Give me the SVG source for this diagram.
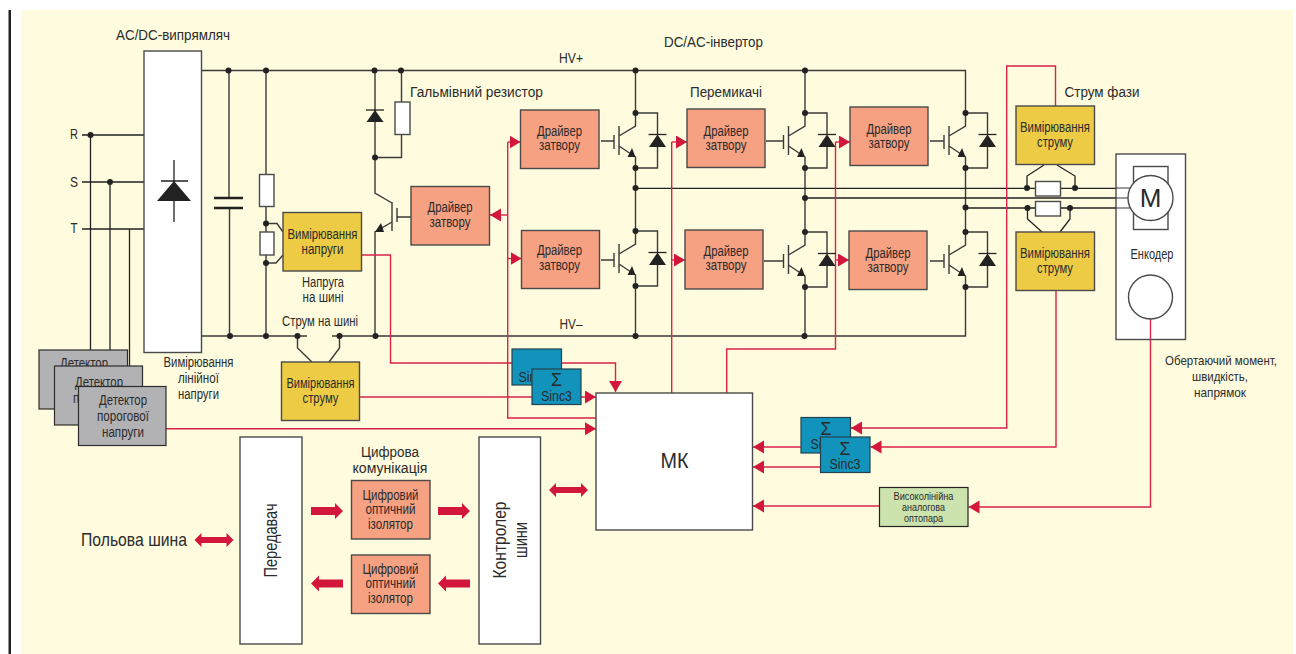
<svg xmlns="http://www.w3.org/2000/svg" xmlns:xlink="http://www.w3.org/1999/xlink" width="1296" height="654" viewBox="0 0 1296 654">
<style>
text{font-family:"Liberation Sans",Arial,sans-serif;fill:#2b2b2b;text-anchor:middle;font-size:14px}
.l{font-size:15.500px}.xs{font-size:11px}.sg{font-size:18px}.sc{font-size:15px}.n{font-size:13px}
.w{fill:none;stroke:#3a3a3a;stroke-width:1.400}
.k{fill:none;stroke:#222;stroke-width:1.300}
.r{fill:none;stroke:#d8234a;stroke-width:1.400}
.ra{marker-end:url(#ah)}
.d{fill:#222}
.box{stroke:#4a4a4a;stroke-width:1.400}
.wh{fill:#fff}.sal{fill:#f5a182}.yel{fill:#eecb45}.gr{fill:#b2b2b4;stroke:#2c2c2c;stroke-width:1.200}
.bl{fill:#1293bc;stroke:#23414f;stroke-width:1.200}.gn{fill:#cde3ae;stroke:#222;stroke-width:1.200}
.ba{fill:#d2163c}
</style>
<defs>
<marker id="ah" markerUnits="userSpaceOnUse" markerWidth="12" markerHeight="14" refX="11" refY="6.500" orient="auto"><path d="M0 0L11 6.500L0 13Z" fill="#d2163c"/></marker>
<g id="igbt">
<path class="w" d="M0 0V13L-16.500 23M-16.500 13V42M-21.500 22V36M-16.500 33L0 44V55M0 0H22V21.500M22 34V55H0"/>
<path class="k" d="M13 21.500H31"/>
<path class="d" d="M22 21.500L30.500 34H13.500ZM-3.500 35L0 44H-8Z"/>
<circle class="d" r="3"/><circle class="d" cy="55" r="3"/>
</g>
<path id="bar" class="ba" d="M0 -4H24V-8L32 0L24 8V4H0Z"/>
<path id="dbl" class="ba" d="M0 0L7 -7V-3H32V-7L39 0L32 7V3H7V7Z"/>
</defs>

<rect width="1296" height="654" fill="#fff"/>
<rect x="21" y="10" width="1272" height="644" fill="#fefbde"/>
<rect x="8.500" y="10" width="2.500" height="644" fill="#222"/>

<g id="connectors">
<path class="w" d="M201 70.500H965.500V113M965.500 168V232M965.500 287V336H332M307 336H201"/>
<path class="k" d="M82 135H144M82 182H144M82 229H144M90.500 135V350M110 182V366M129.500 229V366"/>
<path class="w" d="M229 70.500V197M229.500 209V336M266 70.500V336M266 223.500H277L283 232M266 263H276L283 255"/>
<path class="w" d="M375 70.500V193L392 203M392 222L375 232V336M401.500 70.500V157.500H375M397 217H411"/>
<path class="w" d="M297.500 336V348L312 362M339.500 336V348L329 362"/>
<path class="w" d="M635.500 70.500V113M635.500 168V231M635.500 286V336M805 70.500V113M805 168V232M805 287V336"/>
<path class="w" d="M601 141H614M601 260H614M766 141H783.500M764 261H783.500M930 141H944M930 261H944"/>
<path class="k" d="M635.500 188.300H1130M805 198H1128M965.500 208H1130"/>
<path class="k" d="M1027 188V176L1044 165M1075 188V176L1057 165M1027.500 208V219L1042 232M1070 208V219L1060 232"/>
<path class="r ra" d="M361 255H390.500V363H615.500V392"/>
<path class="r ra" d="M360 397H596"/>
<path class="r ra" d="M166 428.700H596"/>
<path class="r" d="M596 418H507.700V142"/>
<path class="r ra" d="M507.700 142H520.500"/><path class="r ra" d="M507.700 258.500H521.500"/><path class="r ra" d="M507.700 215H490"/>
<path class="r" d="M671.700 393V142"/>
<path class="r ra" d="M671.700 142H687"/><path class="r ra" d="M671.700 260H685"/>
<path class="r" d="M726.700 393V349H835.500V142"/>
<path class="r ra" d="M835.500 142H850"/><path class="r ra" d="M835.500 260H849"/>
<path class="r ra" d="M1055.500 106V66H1006.700V428H851"/>
<path class="r ra" d="M1056 291V447H870.500"/>
<path class="r ra" d="M1150.500 339V507H968.500"/>
<path class="r ra" d="M801 447H753"/><path class="r ra" d="M820 467H753"/><path class="r ra" d="M880 506H753"/>
<use xlink:href="#bar" href="#bar" x="311" y="511"/>
<use xlink:href="#bar" href="#bar" x="438" y="511"/>
<use xlink:href="#bar" href="#bar" transform="translate(343 583.500) scale(-1 1)"/>
<use xlink:href="#bar" href="#bar" transform="translate(470 583.500) scale(-1 1)"/>
<use xlink:href="#dbl" href="#dbl" x="194.500" y="540"/>
<use xlink:href="#dbl" href="#dbl" x="549" y="490"/>
<g class="d">
<circle cx="90.500" cy="135" r="3"/><circle cx="110" cy="182" r="3"/>
<circle cx="228.500" cy="70.500" r="3"/><circle cx="266" cy="70.500" r="3"/><circle cx="374.500" cy="70.500" r="3"/><circle cx="401" cy="70.500" r="3"/><circle cx="635.500" cy="70.500" r="3"/><circle cx="805" cy="70.500" r="3"/>
<circle cx="266" cy="223.500" r="3"/><circle cx="266" cy="263" r="3"/><circle cx="375" cy="157.500" r="3"/>
<circle cx="230" cy="336" r="3"/><circle cx="266" cy="336" r="3"/><circle cx="297.500" cy="336" r="3"/><circle cx="339.500" cy="336" r="3"/><circle cx="375.500" cy="336" r="3"/><circle cx="635.500" cy="336" r="3"/><circle cx="804.500" cy="336" r="3"/>
<circle cx="635.500" cy="188" r="3"/><circle cx="805" cy="198" r="3"/><circle cx="965.500" cy="207.500" r="3"/>
<circle cx="1027" cy="188" r="3"/><circle cx="1075" cy="188" r="3"/><circle cx="1027.500" cy="208" r="3"/><circle cx="1070" cy="208" r="3"/>
</g>
</g>

<g id="rectifier"><rect class="box wh" x="144" y="51" width="57.500" height="301.500"/>
<path class="k" d="M174 160V222M161 181H188"/><path class="d" d="M174 181L191 201H157Z"/></g>
<g id="capacitor"><path d="M214 198H243M214 208H243" stroke="#222" stroke-width="2.400" fill="none"/></g>
<g id="res-bus1"><rect class="box wh" x="259.500" y="174.500" width="14.500" height="32"/></g>
<g id="res-bus2"><rect class="box wh" x="260" y="232" width="14" height="23"/></g>
<g id="brake-diode"><path class="k" d="M366 110H384"/><path class="d" d="M375 110L383.500 122H366.500Z"/></g>
<g id="brake-res"><rect class="box wh" x="395" y="102" width="15" height="32.500"/></g>
<g id="brake-igbt"><path class="w" d="M392 202V231M397 208V222"/><path class="d" d="M381 223L384 232H375Z"/></g>

<use id="igbt-1h" xlink:href="#igbt" href="#igbt" x="635.500" y="113"/>
<use id="igbt-1l" xlink:href="#igbt" href="#igbt" x="635.500" y="231"/>
<use id="igbt-2h" xlink:href="#igbt" href="#igbt" x="805" y="113"/>
<use id="igbt-2l" xlink:href="#igbt" href="#igbt" x="805" y="232"/>
<use id="igbt-3h" xlink:href="#igbt" href="#igbt" x="965.500" y="113"/>
<use id="igbt-3l" xlink:href="#igbt" href="#igbt" x="965.500" y="232"/>

<g id="det1"><rect class="gr" x="39" y="350" width="88.500" height="59"/><text x="84" y="368" textLength="48" lengthAdjust="spacingAndGlyphs">Детектор</text></g>
<g id="det2"><rect class="gr" x="54.500" y="366" width="88" height="59"/><text x="99" y="387" textLength="48" lengthAdjust="spacingAndGlyphs">Детектор</text><text x="99" y="403" textLength="52" lengthAdjust="spacingAndGlyphs">порогової</text></g>
<g id="det3"><rect class="gr" x="78.500" y="386.500" width="87.500" height="59"/><text x="123" y="405" textLength="48" lengthAdjust="spacingAndGlyphs">Детектор</text><text x="123" y="421" textLength="52" lengthAdjust="spacingAndGlyphs">порогової</text><text x="123" y="437" textLength="42" lengthAdjust="spacingAndGlyphs">напруги</text></g>

<g id="v-meas"><rect class="box yel" x="283" y="212.500" width="78.500" height="58.500"/><text x="322.500" y="239" textLength="70" lengthAdjust="spacingAndGlyphs">Вимірювання</text><text x="322.500" y="254" textLength="42" lengthAdjust="spacingAndGlyphs">напруги</text></g>
<g id="i-meas"><rect class="box yel" x="281.500" y="362" width="78" height="58.500"/><text x="320.500" y="388" textLength="68" lengthAdjust="spacingAndGlyphs">Вимірювання</text><text x="320.500" y="403" textLength="36" lengthAdjust="spacingAndGlyphs">струму</text></g>
<g id="drv0"><rect class="box sal" x="411" y="186.500" width="78.500" height="58.500"/><text x="450" y="212" textLength="45" lengthAdjust="spacingAndGlyphs">Драйвер</text><text x="450" y="227" textLength="41" lengthAdjust="spacingAndGlyphs">затвору</text></g>
<g id="drv1"><rect class="box sal" x="520.500" y="110" width="78.500" height="58.500"/><text x="559.500" y="136" textLength="45" lengthAdjust="spacingAndGlyphs">Драйвер</text><text x="559.500" y="150" textLength="41" lengthAdjust="spacingAndGlyphs">затвору</text></g>
<g id="drv2"><rect class="box sal" x="521.500" y="230.500" width="78" height="58"/><text x="559.500" y="255" textLength="45" lengthAdjust="spacingAndGlyphs">Драйвер</text><text x="559.500" y="270" textLength="41" lengthAdjust="spacingAndGlyphs">затвору</text></g>
<g id="drv3"><rect class="box sal" x="687" y="109" width="78" height="58.500"/><text x="726" y="136" textLength="45" lengthAdjust="spacingAndGlyphs">Драйвер</text><text x="726" y="150" textLength="41" lengthAdjust="spacingAndGlyphs">затвору</text></g>
<g id="drv4"><rect class="box sal" x="685" y="230" width="78" height="59"/><text x="726" y="256" textLength="45" lengthAdjust="spacingAndGlyphs">Драйвер</text><text x="726" y="270" textLength="41" lengthAdjust="spacingAndGlyphs">затвору</text></g>
<g id="drv5"><rect class="box sal" x="850" y="107" width="78" height="58.500"/><text x="889" y="134" textLength="45" lengthAdjust="spacingAndGlyphs">Драйвер</text><text x="889" y="148" textLength="41" lengthAdjust="spacingAndGlyphs">затвору</text></g>
<g id="drv6"><rect class="box sal" x="849" y="231" width="78" height="58.500"/><text x="888" y="258" textLength="45" lengthAdjust="spacingAndGlyphs">Драйвер</text><text x="888" y="272" textLength="41" lengthAdjust="spacingAndGlyphs">затвору</text></g>

<g id="i-phase1"><rect class="box yel" x="1016" y="106" width="78.500" height="58.500"/><text x="1055" y="132" textLength="70" lengthAdjust="spacingAndGlyphs">Вимірювання</text><text x="1055" y="147" textLength="36" lengthAdjust="spacingAndGlyphs">струму</text></g>
<g id="i-phase2"><rect class="box yel" x="1016" y="232" width="78.500" height="58.500"/><text x="1055" y="258" textLength="70" lengthAdjust="spacingAndGlyphs">Вимірювання</text><text x="1055" y="273" textLength="36" lengthAdjust="spacingAndGlyphs">струму</text></g>
<g id="shunt1"><rect class="box wh" x="1035.500" y="181.500" width="25" height="14.500"/></g>
<g id="shunt2"><rect class="box wh" x="1035.500" y="201.500" width="25" height="14.500"/></g>

<g id="motor"><rect class="box wh" x="1116" y="154" width="69.500" height="185.500"/>
<rect class="box wh" x="1133.500" y="166.500" width="34.500" height="63"/>
<path class="k" d="M1116 188H1130M1116 198H1128M1116 208H1130" stroke-opacity=".6"/>
<path class="r" d="M1150.500 319V339"/>
<circle class="box wh" cx="1150.500" cy="198" r="22.500"/><text x="1150.500" y="207" style="font-size:26px">M</text>
<text x="1152" y="259" textLength="43" lengthAdjust="spacingAndGlyphs">Енкодер</text>
<circle class="box wh" cx="1150.500" cy="297" r="22"/></g>

<g id="sinc-a1"><rect class="bl" x="512" y="349" width="49.500" height="36"/><text class="sc" x="534" y="381.500" textLength="31" lengthAdjust="spacingAndGlyphs">Sinc3</text></g>
<g id="sinc-a2"><rect class="bl" x="532" y="369" width="49" height="35.500"/><text class="sg" x="556.500" y="386" textLength="11" lengthAdjust="spacingAndGlyphs">Σ</text><text class="sc" x="556.500" y="401" textLength="31" lengthAdjust="spacingAndGlyphs">Sinc3</text></g>
<g id="sinc-b1"><rect class="bl" x="801" y="417.500" width="49.500" height="35.500"/><text class="sg" x="826" y="435" textLength="11" lengthAdjust="spacingAndGlyphs">Σ</text><text class="sc" x="826" y="449" textLength="31" lengthAdjust="spacingAndGlyphs">Sinc3</text></g>
<g id="sinc-b2"><rect class="bl" x="820.500" y="437" width="49.500" height="35.500"/><text class="sg" x="845" y="455" textLength="11" lengthAdjust="spacingAndGlyphs">Σ</text><text class="sc" x="845" y="468.500" textLength="31" lengthAdjust="spacingAndGlyphs">Sinc3</text></g>

<g id="mk"><rect class="box wh" x="596" y="393" width="156.500" height="137"/><text x="674.500" y="468" style="font-size:22px" textLength="28" lengthAdjust="spacingAndGlyphs">МК</text></g>
<g id="opto"><rect class="gn" x="879.500" y="487.500" width="88.500" height="39"/><text class="xs" x="923.500" y="500" textLength="60" lengthAdjust="spacingAndGlyphs">Високолінійна</text><text class="xs" x="923.500" y="511" textLength="43" lengthAdjust="spacingAndGlyphs">аналогова</text><text class="xs" x="923.500" y="522" textLength="39" lengthAdjust="spacingAndGlyphs">оптопара</text></g>
<g id="transceiver"><rect class="box wh" x="240" y="437" width="62" height="207"/><text transform="translate(277 540.500) rotate(-90)" style="font-size:18px" textLength="74" lengthAdjust="spacingAndGlyphs">Передавач</text></g>
<g id="bus-ctrl"><rect class="box wh" x="479" y="437" width="61.500" height="207"/><text transform="translate(505.500 540) rotate(-90)" style="font-size:18px" textLength="77" lengthAdjust="spacingAndGlyphs">Контролер</text><text transform="translate(527 540) rotate(-90)" style="font-size:18px" textLength="36" lengthAdjust="spacingAndGlyphs">шини</text></g>
<g id="iso1"><rect class="box sal" x="351.500" y="480.500" width="78.500" height="58.500"/><text x="390.500" y="500" textLength="56" lengthAdjust="spacingAndGlyphs">Цифровий</text><text x="390.500" y="514" textLength="50" lengthAdjust="spacingAndGlyphs">оптичний</text><text x="390.500" y="529" textLength="45" lengthAdjust="spacingAndGlyphs">ізолятор</text></g>
<g id="iso2"><rect class="box sal" x="351.500" y="555" width="78.500" height="58.500"/><text x="390.500" y="574" textLength="56" lengthAdjust="spacingAndGlyphs">Цифровий</text><text x="390.500" y="588" textLength="50" lengthAdjust="spacingAndGlyphs">оптичний</text><text x="390.500" y="603" textLength="45" lengthAdjust="spacingAndGlyphs">ізолятор</text></g>

<g id="labels">
<text class="l" x="173" y="40" textLength="114" lengthAdjust="spacingAndGlyphs">AC/DC-випрямляч</text>
<text class="l" x="571" y="63" textLength="24" lengthAdjust="spacingAndGlyphs">HV+</text>
<text class="l" x="713.500" y="47" textLength="99" lengthAdjust="spacingAndGlyphs">DC/AC-інвертор</text>
<text class="l" x="476.500" y="97" textLength="133" lengthAdjust="spacingAndGlyphs">Гальмівний резистор</text>
<text class="l" x="726" y="96.500" textLength="72" lengthAdjust="spacingAndGlyphs">Перемикачі</text>
<text class="l" x="1102" y="97" textLength="75" lengthAdjust="spacingAndGlyphs">Струм фази</text>
<text class="l" x="571" y="329" textLength="23" lengthAdjust="spacingAndGlyphs">HV–</text>
<text class="l" x="74" y="138.500" textLength="8" lengthAdjust="spacingAndGlyphs">R</text><text class="l" x="74" y="186.500" textLength="8" lengthAdjust="spacingAndGlyphs">S</text><text class="l" x="74" y="233" textLength="7" lengthAdjust="spacingAndGlyphs">T</text>
<text x="323" y="287" textLength="42" lengthAdjust="spacingAndGlyphs">Напруга</text><text x="323" y="302" textLength="41" lengthAdjust="spacingAndGlyphs">на шині</text>
<text x="320" y="326" textLength="76" lengthAdjust="spacingAndGlyphs">Струм на шині</text>
<text x="198.500" y="367" textLength="70" lengthAdjust="spacingAndGlyphs">Вимірювання</text><text x="198.500" y="383" textLength="41" lengthAdjust="spacingAndGlyphs">лінійної</text><text x="198.500" y="399" textLength="41" lengthAdjust="spacingAndGlyphs">напруги</text>
<text class="l" x="390" y="457" textLength="58" lengthAdjust="spacingAndGlyphs">Цифрова</text><text class="l" x="390" y="473" textLength="75" lengthAdjust="spacingAndGlyphs">комунікація</text>
<text class="n" x="1221" y="365" textLength="112" lengthAdjust="spacingAndGlyphs">Обертаючий момент,</text><text class="n" x="1220" y="381" textLength="56" lengthAdjust="spacingAndGlyphs">швидкість,</text><text class="n" x="1220" y="397" textLength="52" lengthAdjust="spacingAndGlyphs">напрямок</text>
<text x="134" y="546" style="font-size:19px" textLength="106" lengthAdjust="spacingAndGlyphs">Польова шина</text>
</g>
</svg>
